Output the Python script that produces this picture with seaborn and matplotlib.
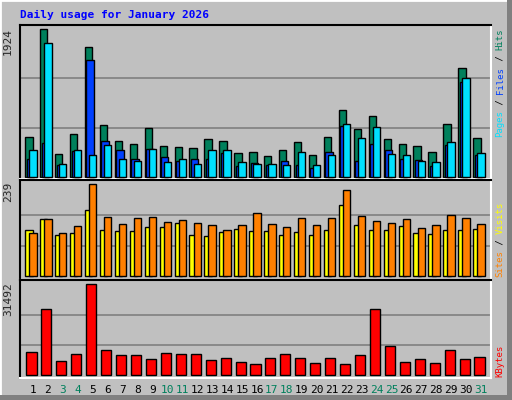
import matplotlib
matplotlib.use("Agg")
import matplotlib.pyplot as plt
import seaborn as sns
import numpy as np
from matplotlib.patches import Rectangle

sns.set_style("white")
plt.rcParams['font.family'] = ['DejaVu Sans Mono']

days = list(range(1, 32))
hits = [514,1924,292,553,1689,670,461,422,631,396,383,370,487,461,305,318,266,344,448,279,514,866,618,788,487,422,396,318,683,1415,501]
files = [226,435,152,335,1519,461,344,226,357,252,200,226,226,305,139,174,148,200,148,109,318,657,200,422,344,226,213,135,409,1232,279]
pages = [344,1741,161,344,279,409,226,200,357,187,226,161,344,344,187,161,161,148,318,148,279,683,501,644,292,279,200,187,448,1284,305]
sites = [120,148,107,112,171,120,117,117,127,127,138,107,104,114,122,117,117,107,114,107,120,184,132,120,120,130,112,109,120,120,122]
visits = [112,148,112,130,239,153,135,151,153,140,145,138,132,120,132,164,135,127,151,132,151,223,156,143,138,148,125,132,158,151,135]
kbytes = [7960,22838,4845,7267,31492,8651,6921,6921,5537,7613,7267,7267,5191,5883,4499,3807,5883,7267,5883,4153,5883,3807,6921,22838,10036,4499,5537,4153,8651,5537,6229]
weekend = [3,4,10,11,17,18,24,25,31]

BG = "#C0C0C0"
fig = plt.figure(figsize=(5.12, 4.0), dpi=100, facecolor=BG)
fig.patches.append(Rectangle((0, 0), 1, 1, transform=fig.transFigure, fill=False, ec="white", lw=2))
fig.patches.append(Rectangle((507/512, 0), 5/512, 1, transform=fig.transFigure, fc="#808080", ec="none"))
fig.patches.append(Rectangle((0, 0), 1, 5/400, transform=fig.transFigure, fc="#808080", ec="none"))

L, W = 20/512, 470.7/512
def mkax(top, bot):
    ax = fig.add_axes([L, 1-bot/400, W, (bot-top)/400])
    ax.set_facecolor(BG)
    for s in ("top", "left"):
        ax.spines[s].set_color("black"); ax.spines[s].set_linewidth(1.5)
    for s in ("bottom", "right"):
        ax.spines[s].set_color("white"); ax.spines[s].set_linewidth(1.5)
    ax.set_xlim(0.13, 31.65)
    ax.set_xticks([]); ax.set_yticks([])
    return ax

x = np.array(days, dtype=float)
w = 0.49
ax1 = mkax(25, 179)
mx = max(hits)
ax1.set_ylim(-30, 1980)
for f in (1/3, 2/3):
    ax1.axhline(mx*f, color="#808080", lw=1.2, zorder=0)
ax1.bar(x-0.52, hits, width=w, align="edge", color="#00805C", ec="black", lw=1, zorder=2)
ax1.bar(x-0.42, files, width=w, align="edge", color="#0040FF", ec="black", lw=1, zorder=3)
ax1.bar(x-0.25, pages, width=w, align="edge", color="#00E0FF", ec="black", lw=1, zorder=4)

ax2 = mkax(180, 279.7)
mx2 = max(visits)
ax2.set_ylim(-8.8, 250)
for f in (1/3, 2/3):
    ax2.axhline(mx2*f, color="#808080", lw=1.2, zorder=0)
ax2.bar(x-0.52, sites, width=w, align="edge", color="#FFFF00", ec="black", lw=1, zorder=2)
ax2.bar(x-0.25, visits, width=w, align="edge", color="#FF8000", ec="black", lw=1, zorder=3)

ax3 = mkax(280, 378)
mx3 = max(kbytes)
ax3.set_ylim(-934, 32980)
for f in (1/3, 2/3):
    ax3.axhline(mx3*f, color="#808080", lw=1.2, zorder=0)
ax3.bar(x-0.1, kbytes, width=0.67, color="#FF0000", ec="black", lw=1, zorder=2)

for d in days:
    ax3.text(d, -0.12, str(d), transform=ax3.get_xaxis_transform(), ha="center", va="center",
             fontsize=8, color="#00805C" if d in weekend else "black")

fig.text(20/512, 1-15/400, "Daily usage for January 2026", color="#0000FF",
         fontsize=8, fontweight="bold", va="center", ha="left")

for ax, v in ((ax1, mx), (ax2, mx2), (ax3, mx3)):
    ax.text(-0.015, 1-0.02, str(v), transform=ax.transAxes, rotation=90, ha="right", va="top", fontsize=8)

FS = 6.5
STEP = FS * 0.602 * 100 / 72
def rlabel(parts, ybot):
    y = ybot
    for t, c in parts:
        fig.text(500/512, 1-y/400, t, rotation=90, color=c, fontsize=FS, ha="center", va="bottom")
        y -= len(t)*STEP
rlabel([("Pages", "#00E0FF"), (" / ", "black"), ("Files", "#0040FF"), (" / ", "black"), ("Hits", "#00805C")], 137)
rlabel([("Sites", "#FF8000"), (" / ", "black"), ("Visits", "#FFFF00")], 277)
rlabel([("KBytes", "#FF0000")], 377)

fig.savefig("out.png", dpi=100, facecolor=BG)
